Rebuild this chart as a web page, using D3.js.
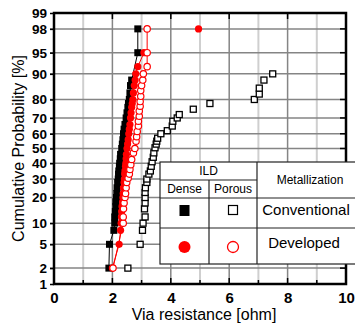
<!DOCTYPE html>
<html>
<head>
<meta charset="utf-8">
<script src="https://cdn.jsdelivr.net/npm/d3@7"></script>
<style>
  body { margin: 0; background: #fff; }
  svg { font-family: "Liberation Sans", Arial, sans-serif; }
</style>
</head>
<body>
<div id="chart"></div>
<script>
// cumulative probability ticks [%]
const yTicks = [1, 2, 5, 10, 20, 30, 40, 50, 60, 70, 80, 90, 95, 98, 99];
const xTicks = [0, 2, 4, 6, 8, 10];
const xMinor = [1, 3, 5, 7, 9];

// Conventional metallization, dense ILD
const convDenseP = [2, 5, 8, 10, 12, 14, 16, 18, 20, 22, 25, 28, 30, 33, 35, 38, 40, 43, 46, 50, 53, 56, 60, 63, 66, 70, 73, 76, 78, 80, 83, 86, 88, 95, 98];
const convDenseR = [1.88, 1.9, 2.05, 2.08, 2.08, 2.1, 2.12, 2.12, 2.14, 2.15, 2.16, 2.18, 2.2, 2.21, 2.22, 2.24, 2.25, 2.27, 2.28, 2.32, 2.34, 2.36, 2.38, 2.4, 2.43, 2.47, 2.5, 2.53, 2.55, 2.58, 2.6, 2.62, 2.66, 2.87, 2.87];

// Conventional metallization, porous ILD
const convPorousP = [2, 5, 8, 10, 12, 15, 17.5, 20, 22.5, 25, 28, 30, 33, 35, 38, 41, 44, 47, 50.5, 53, 55, 57, 60, 62, 65, 68, 70, 72, 75, 78, 80, 82.5, 85, 88, 90];
const convPorousR = [2.53, 2.95, 3.03, 3.05, 3.12, 3.1, 3.12, 3.12, 3.12, 3.13, 3.18, 3.18, 3.25, 3.3, 3.33, 3.36, 3.4, 3.42, 3.46, 3.5, 3.52, 3.55, 3.66, 3.88, 4.05, 4.07, 4.22, 4.29, 4.77, 5.34, 6.86, 7.03, 7.03, 7.19, 7.49];

// Developed metallization, dense ILD
const devDenseP = [2, 5, 8, 10, 12, 14, 16, 18, 20, 22, 25, 28, 30, 33, 35, 38, 40, 43, 46, 50, 53, 56, 60, 63, 66, 70, 73, 76, 78, 80, 83, 86, 88, 90, 92, 95];
const devDenseR = [2.0, 2.23, 2.28, 2.3, 2.31, 2.32, 2.33, 2.35, 2.36, 2.37, 2.38, 2.4, 2.41, 2.42, 2.43, 2.45, 2.46, 2.47, 2.48, 2.5, 2.52, 2.54, 2.56, 2.58, 2.6, 2.62, 2.64, 2.66, 2.68, 2.7, 2.72, 2.75, 2.78, 2.8, 2.87, 3.08];
const devDenseOutlierP = [98];
const devDenseOutlierR = [4.95];

// Developed metallization, porous ILD
const devPorousP = [2, 10, 12, 15, 17.5, 20, 22, 25, 28, 30.5, 33, 36, 39, 42.5, 47, 50, 55, 58, 61.5, 65, 68, 71, 74, 76.6, 79, 81.5, 84, 86, 88, 90, 92, 95, 98];
const devPorousR = [2.02, 2.37, 2.37, 2.38, 2.4, 2.43, 2.45, 2.47, 2.49, 2.54, 2.58, 2.6, 2.63, 2.66, 2.72, 2.77, 2.81, 2.83, 2.85, 2.89, 2.89, 2.92, 2.92, 2.95, 2.95, 2.97, 2.97, 3.0, 3.04, 3.06, 3.19, 3.19, 3.19];

const W = 355, H = 324;
const margin = { top: 13, right: 9, bottom: 40, left: 54 };
const innerW = W - margin.left - margin.right;
const innerH = H - margin.top - margin.bottom;

// inverse normal cdf (Acklam), used for the probability scale
function probit(p) {
    const a = [-39.69683028665376, 220.9460984245205, -275.9285104469687, 138.3577518672690, -30.66479806614716, 2.506628277459239];
    const b = [-54.47609879822406, 161.5858368580409, -155.6989798598866, 66.80131188771972, -13.28068155288572];
    const c = [-0.007784894002430293, -0.3223964580411365, -2.400758277161838, -2.549732539343734, 4.374664141464968, 2.938163982698783];
    const d = [0.007784695709041462, 0.3224671290700398, 2.445134137142996, 3.754408661907416];
    const pl = 0.02425;
    let q, r;
    if (p < pl) {
        q = Math.sqrt(-2 * Math.log(p));
        return (((((c[0]*q+c[1])*q+c[2])*q+c[3])*q+c[4])*q+c[5]) / ((((d[0]*q+d[1])*q+d[2])*q+d[3])*q+1);
    } else if (p <= 1 - pl) {
        q = p - 0.5; r = q * q;
        return (((((a[0]*r+a[1])*r+a[2])*r+a[3])*r+a[4])*r+a[5])*q / (((((b[0]*r+b[1])*r+b[2])*r+b[3])*r+b[4])*r+1);
    }
    q = Math.sqrt(-2 * Math.log(1 - p));
    return -(((((c[0]*q+c[1])*q+c[2])*q+c[3])*q+c[4])*q+c[5]) / ((((d[0]*q+d[1])*q+d[2])*q+d[3])*q+1);
}

const xScale = d3.scaleLinear().domain([0, 10]).range([0, innerW]);
const zScale = d3.scaleLinear().domain([probit(0.01), probit(0.99)]).range([innerH, 0]);
const yScale = p => zScale(probit(p / 100));

const svg = d3.select('#chart').append('svg')
    .attr('width', W)
    .attr('height', H);

const g = svg.append('g')
    .attr('transform', `translate(${margin.left},${margin.top})`);

// grid
g.append('g').selectAll('line').data(xMinor).join('line')
    .attr('x1', d => xScale(d)).attr('x2', d => xScale(d))
    .attr('y1', 0).attr('y2', innerH)
    .attr('stroke', '#cfcfcf').attr('stroke-width', 2);
g.append('g').selectAll('line').data(xTicks.slice(1, -1)).join('line')
    .attr('x1', d => xScale(d)).attr('x2', d => xScale(d))
    .attr('y1', 0).attr('y2', innerH)
    .attr('stroke', '#858585').attr('stroke-width', 1.5);
g.append('g').selectAll('line').data(yTicks.slice(1, -1)).join('line')
    .attr('x1', -4).attr('x2', innerW)
    .attr('y1', d => yScale(d)).attr('y2', d => yScale(d))
    .attr('stroke', '#858585').attr('stroke-width', 1.5);

// axes
const yAxis = d3.axisLeft(zScale)
    .tickValues(yTicks.map(p => probit(p / 100)))
    .tickFormat((d, i) => yTicks[i])
    .tickSize(4).tickPadding(3);
const yAx = g.append('g').call(yAxis);
yAx.select('.domain').remove();
yAx.selectAll('line').attr('stroke', '#000').attr('stroke-width', 1.5);
yAx.selectAll('text').attr('font-size', 13.5).attr('font-weight', 'bold').attr('fill', '#000');

const xAxis = d3.axisBottom(xScale).tickValues(xTicks).tickSize(0).tickPadding(8);
const xAx = g.append('g').attr('transform', `translate(0,${innerH})`).call(xAxis);
xAx.select('.domain').remove();
xAx.selectAll('text').attr('font-size', 15).attr('font-weight', 'bold').attr('fill', '#000');

// inner ticks on bottom, top and right
g.append('g').selectAll('line').data(xTicks.concat(xMinor)).join('line')
    .attr('x1', d => xScale(d)).attr('x2', d => xScale(d))
    .attr('y1', innerH).attr('y2', d => innerH - (d % 2 === 0 ? 6 : 4))
    .attr('stroke', '#000').attr('stroke-width', 1.5);
g.append('g').selectAll('line').data(xTicks).join('line')
    .attr('x1', d => xScale(d)).attr('x2', d => xScale(d))
    .attr('y1', 0).attr('y2', 6)
    .attr('stroke', '#000').attr('stroke-width', 1.5);
g.append('g').selectAll('line').data(yTicks).join('line')
    .attr('x1', innerW).attr('x2', innerW - 6)
    .attr('y1', d => yScale(d)).attr('y2', d => yScale(d))
    .attr('stroke', '#000').attr('stroke-width', 1.5);

// frame
g.append('rect')
    .attr('width', innerW).attr('height', innerH)
    .attr('fill', 'none').attr('stroke', '#000').attr('stroke-width', 2.5);

// series
const toPts = (P, R) => P.map((p, i) => ({ p, r: R[i] }));
const convDense = toPts(convDenseP, convDenseR);
const convPorous = toPts(convPorousP, convPorousR);
const devDense = toPts(devDenseP, devDenseR);
const devOutlier = toPts(devDenseOutlierP, devDenseOutlierR);
const devPorous = toPts(devPorousP, devPorousR);

const line = d3.line().x(d => xScale(d.r)).y(d => yScale(d.p));

g.append('path').datum(convDense).attr('d', line)
    .attr('fill', 'none').attr('stroke', '#000').attr('stroke-width', 1);
g.append('path').datum(devDense).attr('d', line)
    .attr('fill', 'none').attr('stroke', '#ff0000').attr('stroke-width', 1);
g.append('path').datum(devPorous).attr('d', line)
    .attr('fill', 'none').attr('stroke', '#ff0000').attr('stroke-width', 1);

const sq = 7;
g.append('g').selectAll('rect').data(convPorous).join('rect')
    .attr('x', d => xScale(d.r) - sq / 2 + 0.5).attr('y', d => yScale(d.p) - sq / 2 + 0.5)
    .attr('width', sq - 1).attr('height', sq - 1)
    .attr('fill', '#fff').attr('stroke', '#000').attr('stroke-width', 1.3);
g.append('g').selectAll('rect').data(convDense).join('rect')
    .attr('x', d => xScale(d.r) - sq / 2).attr('y', d => yScale(d.p) - sq / 2)
    .attr('width', sq).attr('height', sq)
    .attr('fill', '#000');
g.append('g').selectAll('circle').data(devDense.concat(devOutlier)).join('circle')
    .attr('cx', d => xScale(d.r)).attr('cy', d => yScale(d.p)).attr('r', 3.6)
    .attr('fill', '#ff0000');
g.append('g').selectAll('circle').data(devPorous).join('circle')
    .attr('cx', d => xScale(d.r)).attr('cy', d => yScale(d.p)).attr('r', 3.2)
    .attr('fill', '#fff').attr('stroke', '#ff0000').attr('stroke-width', 1.2);

// axis titles
svg.append('text')
    .attr('transform', `translate(18,${margin.top + innerH / 2}) rotate(-90)`)
    .attr('text-anchor', 'middle').attr('dy', '0.35em')
    .attr('font-size', 16).text('Cumulative Probability [%]');
svg.append('text')
    .attr('x', margin.left + innerW / 2 + 4).attr('y', 320)
    .attr('text-anchor', 'middle')
    .attr('font-size', 16).text('Via resistance [ohm]');

// legend table
const lg = svg.append('g');
const L = 160, R = 357, T = 162, B = 264;
const c1 = 209, c2 = 257, r1 = 180, r2 = 198, r3 = 228;
lg.append('rect').attr('x', L).attr('y', T).attr('width', R - L).attr('height', B - T)
    .attr('fill', '#fff').attr('stroke', '#222').attr('stroke-width', 1.2);
const lgLines = [
    [c1, r1, c1, B], [c2, T, c2, B],
    [L, r1, c2, r1], [L, r2, R, r2], [L, r3, R, r3]
];
lg.selectAll('line').data(lgLines).join('line')
    .attr('x1', d => d[0]).attr('y1', d => d[1]).attr('x2', d => d[2]).attr('y2', d => d[3])
    .attr('stroke', '#222').attr('stroke-width', 1.2);
const lgText = [
    ['ILD', (L + c2) / 2, 175, 12],
    ['Dense', (L + c1) / 2, 193, 12],
    ['Porous', (c1 + c2) / 2, 193, 12],
    ['Metallization', 310, 184, 12],
    ['Conventional', 306, 215, 15],
    ['Developed', 304, 248, 15]
];
lg.selectAll('text').data(lgText).join('text')
    .attr('x', d => d[1]).attr('y', d => d[2])
    .attr('text-anchor', 'middle').attr('font-size', d => d[3])
    .text(d => d[0]);
lg.append('rect').attr('x', (L + c1) / 2 - 5).attr('y', 205).attr('width', 10).attr('height', 11).attr('fill', '#000');
lg.append('rect').attr('x', (c1 + c2) / 2 - 4.5).attr('y', 205.5).attr('width', 9).attr('height', 9)
    .attr('fill', '#fff').attr('stroke', '#000').attr('stroke-width', 1.2);
lg.append('circle').attr('cx', (L + c1) / 2).attr('cy', 247).attr('r', 6).attr('fill', '#ff0000');
lg.append('circle').attr('cx', (c1 + c2) / 2).attr('cy', 247).attr('r', 5.5)
    .attr('fill', '#fff').attr('stroke', '#ff0000').attr('stroke-width', 1.3);
</script>
</body>
</html>
